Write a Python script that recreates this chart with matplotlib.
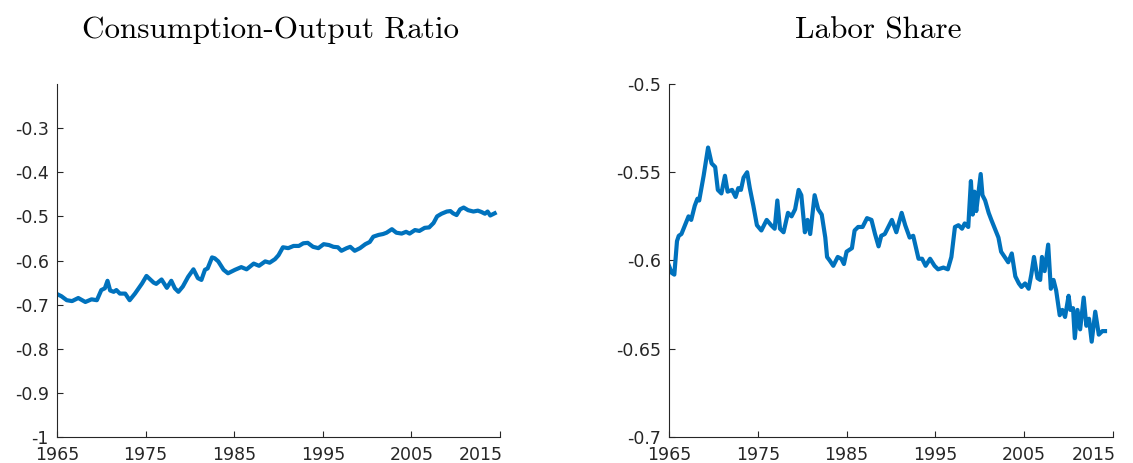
import numpy as np
import matplotlib.pyplot as plt
import matplotlib.transforms as mtransforms
from matplotlib.ticker import FuncFormatter

# Consumption-output ratio (log)
cy_years = [1965.0, 1965.5, 1966.1, 1966.7, 1967.4, 1968.2, 1968.9, 1969.5, 1970.0, 1970.4,
            1970.7, 1971.0, 1971.4, 1971.7, 1972.1, 1972.7, 1973.2, 1973.8, 1974.6, 1975.1,
            1975.9, 1976.2, 1976.8, 1977.4, 1977.9, 1978.3, 1978.7, 1979.2, 1979.8, 1980.4,
            1980.9, 1981.3, 1981.7, 1982.0, 1982.5, 1982.8, 1983.2, 1983.8, 1984.3, 1985.1,
            1985.8, 1986.4, 1987.2, 1987.8, 1988.5, 1989.0, 1989.6, 1990.0, 1990.5, 1991.1,
            1991.7, 1992.3, 1992.8, 1993.3, 1993.9, 1994.5, 1995.1, 1995.7, 1996.2, 1996.7,
            1997.1, 1997.7, 1998.1, 1998.6, 1999.2, 1999.8, 2000.3, 2000.7, 2001.3, 2001.8,
            2002.2, 2002.8, 2003.3, 2003.9, 2004.4, 2004.8, 2005.4, 2005.9, 2006.5, 2007.0,
            2007.5, 2007.9, 2008.4, 2009.0, 2009.4, 2009.7, 2010.1, 2010.5, 2010.9, 2011.4,
            2012.0, 2012.5, 2012.9, 2013.3, 2013.6, 2013.9, 2014.4]
cy_values = [-0.676, -0.681, -0.690, -0.692, -0.685, -0.694, -0.688, -0.690, -0.667, -0.663,
             -0.646, -0.668, -0.671, -0.667, -0.675, -0.675, -0.690, -0.675, -0.652, -0.635,
             -0.650, -0.653, -0.643, -0.662, -0.646, -0.663, -0.671, -0.659, -0.637, -0.620,
             -0.640, -0.644, -0.621, -0.618, -0.593, -0.595, -0.602, -0.621, -0.629, -0.621,
             -0.615, -0.620, -0.607, -0.612, -0.602, -0.605, -0.597, -0.588, -0.570, -0.572,
             -0.567, -0.567, -0.561, -0.560, -0.569, -0.572, -0.563, -0.565, -0.569, -0.570,
             -0.578, -0.572, -0.569, -0.578, -0.572, -0.563, -0.558, -0.546, -0.542, -0.540,
             -0.537, -0.529, -0.537, -0.539, -0.535, -0.539, -0.531, -0.533, -0.526, -0.525,
             -0.515, -0.500, -0.494, -0.489, -0.488, -0.493, -0.497, -0.484, -0.480, -0.486,
             -0.489, -0.487, -0.490, -0.494, -0.489, -0.498, -0.493]

# Labor share (log)
ls_years = [1965.0, 1965.3, 1965.6, 1965.9, 1966.1, 1966.4, 1966.8, 1967.2, 1967.5, 1967.9,
            1968.2, 1968.4, 1968.9, 1969.4, 1969.8, 1970.2, 1970.5, 1970.9, 1971.3, 1971.6,
            1972.1, 1972.5, 1972.8, 1973.1, 1973.4, 1973.8, 1974.1, 1974.5, 1974.9, 1975.4,
            1976.0, 1976.5, 1976.9, 1977.2, 1977.5, 1977.9, 1978.4, 1978.8, 1979.2, 1979.6,
            1979.9, 1980.3, 1980.6, 1980.9, 1981.4, 1981.8, 1982.2, 1982.6, 1982.8, 1983.1,
            1983.5, 1984.0, 1984.4, 1984.7, 1985.0, 1985.6, 1985.9, 1986.3, 1986.8, 1987.3,
            1987.8, 1988.2, 1988.6, 1988.9, 1989.3, 1989.8, 1990.1, 1990.6, 1991.2, 1991.6,
            1992.1, 1992.5, 1993.1, 1993.5, 1993.9, 1994.4, 1994.9, 1995.3, 1995.9, 1996.4,
            1996.8, 1997.2, 1997.6, 1998.0, 1998.3, 1998.7, 1999.0, 1999.2, 1999.4, 1999.6,
            2000.1, 2000.3, 2000.6, 2001.0, 2001.3, 2001.7, 2002.1, 2002.4, 2002.8, 2003.2,
            2003.6, 2004.0, 2004.4, 2004.7, 2005.1, 2005.5, 2005.8, 2006.1, 2006.5, 2006.8,
            2007.0, 2007.3, 2007.7, 2008.0, 2008.3, 2008.6, 2009.0, 2009.3, 2009.6, 2010.0,
            2010.2, 2010.5, 2010.7, 2011.0, 2011.3, 2011.7, 2012.0, 2012.3, 2012.6, 2013.0,
            2013.4, 2013.8, 2014.1]
ls_values = [-0.603, -0.607, -0.608, -0.589, -0.586, -0.585, -0.580, -0.575, -0.577, -0.569,
             -0.565, -0.566, -0.552, -0.536, -0.545, -0.547, -0.560, -0.562, -0.552, -0.561,
             -0.560, -0.564, -0.559, -0.560, -0.553, -0.550, -0.559, -0.569, -0.580, -0.583,
             -0.577, -0.580, -0.582, -0.566, -0.582, -0.584, -0.573, -0.575, -0.571, -0.560,
             -0.563, -0.584, -0.577, -0.585, -0.563, -0.571, -0.574, -0.587, -0.598, -0.600,
             -0.603, -0.598, -0.599, -0.602, -0.595, -0.593, -0.583, -0.581, -0.581, -0.576,
             -0.577, -0.585, -0.592, -0.586, -0.585, -0.580, -0.577, -0.584, -0.573, -0.580,
             -0.587, -0.586, -0.599, -0.599, -0.603, -0.599, -0.603, -0.605, -0.604, -0.605,
             -0.598, -0.581, -0.580, -0.582, -0.579, -0.581, -0.555, -0.574, -0.561, -0.572,
             -0.551, -0.563, -0.566, -0.573, -0.577, -0.582, -0.587, -0.595, -0.598, -0.601,
             -0.596, -0.609, -0.613, -0.615, -0.613, -0.616, -0.608, -0.598, -0.610, -0.611,
             -0.598, -0.606, -0.591, -0.616, -0.611, -0.617, -0.631, -0.628, -0.632, -0.620,
             -0.628, -0.627, -0.644, -0.628, -0.639, -0.621, -0.637, -0.633, -0.646, -0.629,
             -0.642, -0.640, -0.640]

x_ticks = [1965, 1975, 1985, 1995, 2005, 2015]
titles = ['Consumption-Output Ratio', 'Labor Share']
title_x = [0.483, 0.471]

line_color = '#0072BD'
axis_color = '#262626'

fig = plt.figure(figsize=(11.33, 4.63), dpi=100)
ax1 = fig.add_axes([57 / 1133, 26 / 463, 443 / 1133, 353 / 463])
ax2 = fig.add_axes([669 / 1133, 26 / 463, 444 / 1133, 353 / 463])

fmt = FuncFormatter(lambda v, pos: f'{v:g}')

ax1.plot(cy_years, cy_values, color=line_color, lw=3.0)
ax1.set_ylim(-1, -0.2)
ax1.set_yticks(np.round(np.arange(-1, -0.25, 0.1), 2))

ax2.plot(ls_years, ls_values, color=line_color, lw=3.0)
ax2.set_ylim(-0.7, -0.5)
ax2.set_yticks(np.round(np.arange(-0.7, -0.49, 0.05), 2))

# last x label sits flush with the end of the axis, like the original
shift = mtransforms.ScaledTranslation(3 / 100, 0, fig.dpi_scale_trans)

for ax, title, tx in zip([ax1, ax2], titles, title_x):
    ax.set_xlim(1965, 2015)
    ax.set_xticks(x_ticks)
    ax.yaxis.set_major_formatter(fmt)
    for side in ['top', 'right']:
        ax.spines[side].set_visible(False)
    for side in ['left', 'bottom']:
        ax.spines[side].set_color(axis_color)
        ax.spines[side].set_linewidth(0.8)
    ax.tick_params(direction='in', length=4, width=0.8, colors=axis_color,
                   labelsize=12.5, pad=6)
    ax.tick_params(axis='x', pad=6.3)
    last = ax.get_xticklabels()[-1]
    last.set_horizontalalignment('right')
    last.set_transform(last.get_transform() + shift)
    ax.set_title(title, fontname='cmr10', fontsize=22.4, pad=33, x=tx)

fig.savefig('out.png', dpi=100)
